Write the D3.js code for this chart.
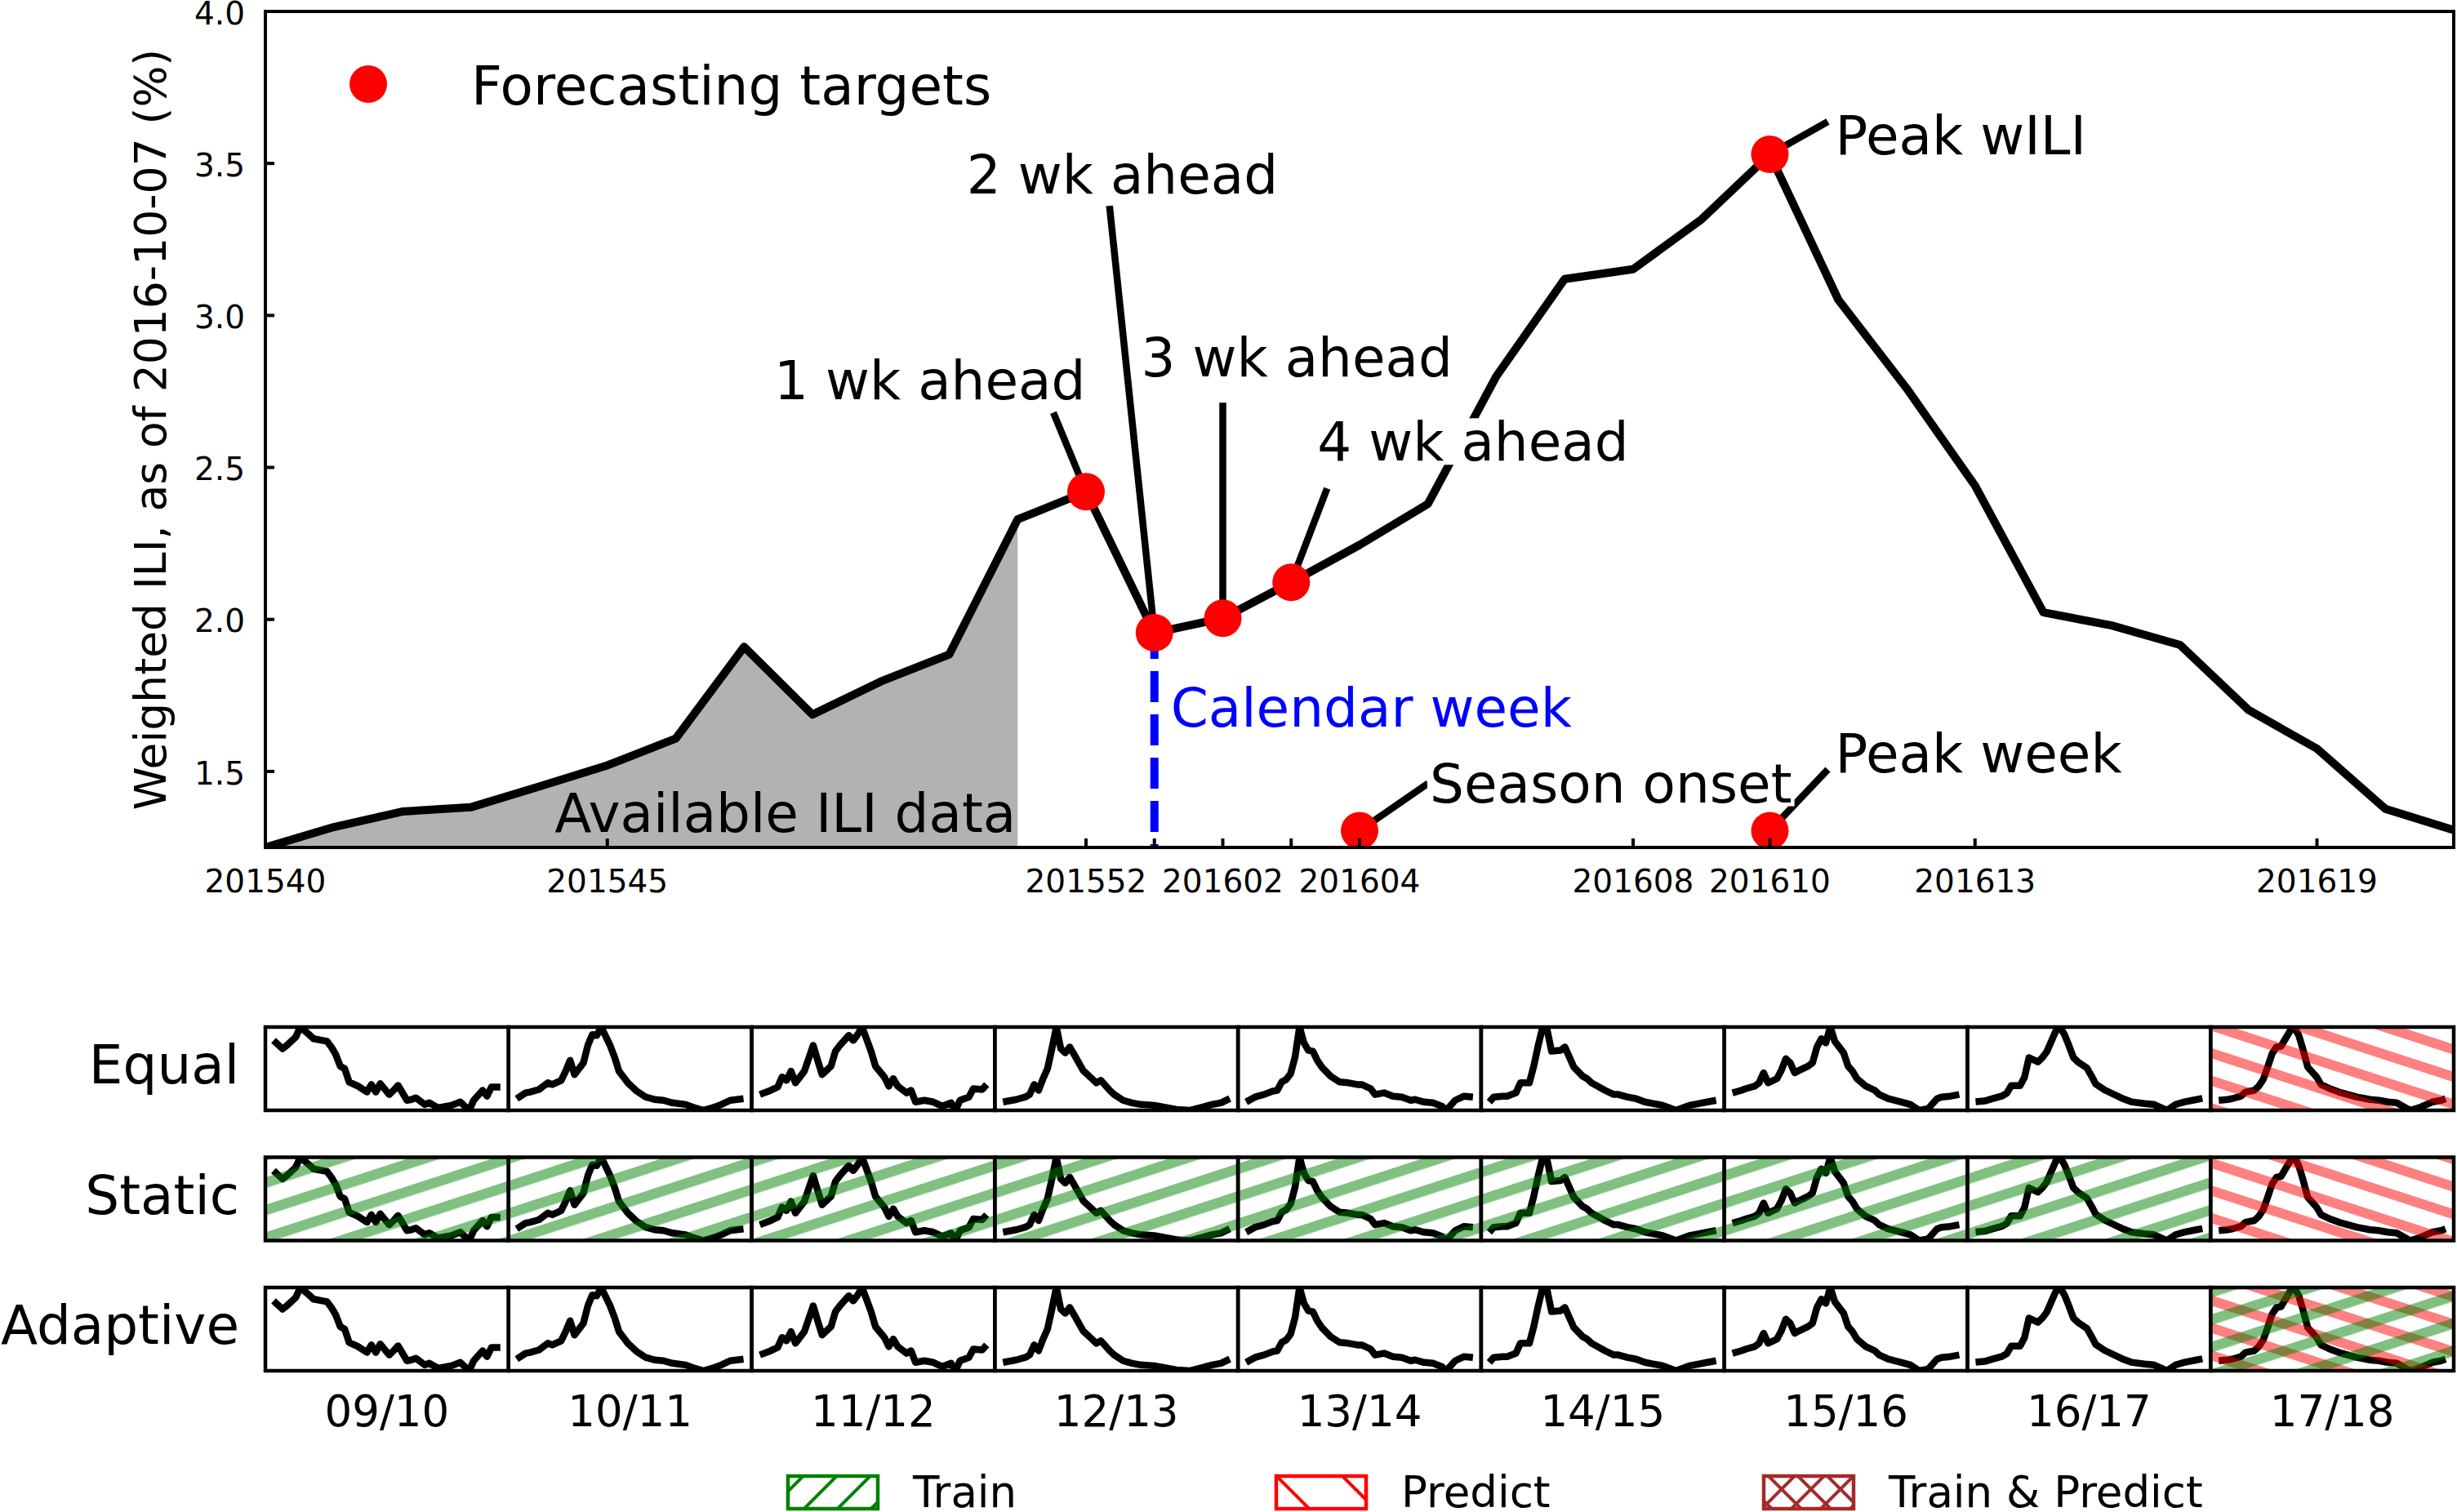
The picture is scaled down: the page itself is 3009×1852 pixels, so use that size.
<!DOCTYPE html>
<meta charset="utf-8">
<style>
body { margin: 0; background: #fff; }
svg text { font-family: "DejaVu Sans", sans-serif; fill: #000; }
</style>
<svg width="3009" height="1852"></svg>
<script src="https://d3js.org/d3.v7.min.js"></script>
<script>

// ---- main panel: weighted ILI of 2015/16, as of 2016-10-07 (weeks 201540 .. 201620) ----
var wili = [1.25, 1.317, 1.368, 1.382, 1.45, 1.52, 1.608, 1.91, 1.687, 1.796,
            1.885, 2.329, 2.42, 1.956, 2.004, 2.122, 2.245, 2.38, 2.80, 3.12,
            3.152, 3.316, 3.53, 3.052, 2.76, 2.44, 2.023, 1.98, 1.916, 1.702,
            1.575, 1.377, 1.307]
var lastAvailable = 11
var calendarWeek = 13

var xTickPos = [0, 5, 12, 13, 14, 15, 16, 20, 22, 25, 30]
var xTickLabels = ["201540", "201545", "201552", "", "201602", "", "201604",
                   "201608", "201610", "201613", "201619"]
var yTicks = [1.5, 2.0, 2.5, 3.0, 3.5, 4.0]

var targetNames  = ["1 wk ahead", "2 wk ahead", "3 wk ahead", "4 wk ahead",
                    "Peak wILI", "Season onset", "Peak week"]
var targetWeeks  = [12, 13, 14, 15, 22, 16, 22]
var targetValues = [2.42, 1.956, 2.004, 2.122, 3.53, 1.305, 1.305]

// ---- small multiples: season curves, [week since wk40, % of season range] ----
var seasonLabels = ["09/10", "10/11", "11/12", "12/13", "13/14", "14/15", "15/16", "16/17", "17/18"]
var season0910 = [[0,84],[2,74],[3,78],[5,88],[6,100],[8,91],[9,86],[11,84],[12,83],[13,76],[14,67],
  [15,53],[16,50],[17,34],[19,29],[21,22],[22,31],[23,22],[24,32],[26,19],[27,24],[28,30],[30,12],
  [31,13],[32,15],[34,7],[35,9],[37,3],[39,5],[40,6],[42,10],[44,0],[45,12],[47,24],[48,17],[49,28],[51,28]]
var season1011 = [[0,14],[2,21],[3,22],[5,25],[6,29],[7,33],[8,31],[10,36],[11,47],[12,60],[13,43],
  [15,57],[16,78],[17,91],[18,90],[19,100],[21,78],[22,64],[23,47],[25,33],[27,23],[29,16],[31,13],
  [33,12],[35,9],[38,7],[40,3],[42,0],[44,3],[46,7],[48,12],[51,14]]
var season1112 = [[0,19],[2,23],[4,28],[5,40],[6,36],[7,47],[8,33],[10,47],[12,78],[13,60],[14,43],
  [16,53],[17,71],[18,78],[20,90],[21,84],[22,91],[23,100],[25,71],[26,53],[28,40],[29,29],[30,38],
  [31,29],[33,21],[34,24],[35,10],[37,12],[39,10],[41,5],[43,9],[44,0],[45,12],[47,16],[48,26],[50,25],[51,31]]
var season1213 = [[0,10],[2,12],[3,13],[5,16],[6,19],[7,31],[8,24],[9,38],[10,50],[11,74],[12,100],
  [13,74],[14,69],[15,76],[16,67],[18,48],[20,38],[21,33],[22,36],[24,24],[25,19],[27,12],[29,9],
  [31,7],[34,6],[36,4],[39,1],[42,0],[45,4],[47,7],[49,9],[51,14]]
var season1314 = [[0,10],[2,16],[4,19],[6,23],[7,24],[8,34],[9,37],[10,44],[11,64],[12,100],[13,81],
  [14,72],[15,71],[16,60],[17,52],[19,41],[21,34],[23,33],[25,31],[26,31],[28,26],[29,19],[31,21],
  [33,17],[35,16],[37,12],[38,13],[40,10],[42,9],[44,5],[45,0],[47,12],[49,17],[51,16]]
var season1415 = [[0,10],[1,16],[3,17],[4,17],[6,21],[7,33],[9,33],[10,53],[11,78],[12,100],[13,97],
  [14,71],[16,72],[17,76],[18,64],[19,52],[21,41],[22,38],[23,33],[24,30],[26,24],[28,19],[29,19],
  [31,16],[33,14],[35,10],[37,8],[39,6],[42,0],[45,6],[47,8],[49,10],[51,12]]
var season1516 = [[0,21],[2,24],[3,26],[5,29],[6,33],[7,45],[8,33],[10,38],[11,48],[12,62],[13,57],
  [14,45],[15,48],[17,53],[18,57],[19,76],[20,86],[21,81],[22,100],[23,83],[25,69],[26,53],[27,47],
  [28,38],[30,29],[32,24],[33,19],[35,14],[38,10],[40,7],[42,0],[44,2],[46,14],[47,16],[49,17],[51,19]]
var season1617 = [[0,12],[2,13],[4,16],[6,19],[7,22],[8,31],[10,31],[11,41],[12,64],[14,59],[15,64],
  [16,71],[17,83],[18,95],[19,100],[20,91],[21,78],[22,64],[23,59],[25,52],[26,43],[27,33],[29,26],
  [31,21],[33,16],[35,12],[38,10],[40,9],[43,2],[45,9],[47,12],[49,14],[51,16]]
var season1718 = [[0,12],[2,13],[3,14],[5,17],[6,22],[8,24],[9,29],[10,37],[11,52],[12,68],[13,76],
  [14,77],[15,86],[16,95],[17,100],[18,90],[19,72],[20,52],[22,40],[23,31],[25,26],[27,22],[29,19],
  [31,16],[34,13],[36,12],[38,10],[40,9],[43,0],[45,3],[48,10],[50,12],[51,14]]
var seasonCurves = [season0910, season1011, season1112, season1213, season1314,
                    season1415, season1516, season1617, season1718]

var strategies = ["Equal", "Static", "Adaptive"]
var equalRoles    = ["", "", "", "", "", "", "", "", "predict"]
var staticRoles   = ["train", "train", "train", "train", "train", "train", "train", "train", "predict"]
var adaptiveRoles = ["", "", "", "", "", "", "", "", "both"]
var strategyRoles = [equalRoles, staticRoles, adaptiveRoles]

var legendLabels = ["Train", "Predict", "Train & Predict"]

// ---- layout ----
var svg = d3.select("svg")
var plot = {left: 325, right: 3005, top: 14, bottom: 1038}

var x = d3.scaleLinear().domain([0, 32]).range([plot.left, plot.right])
var y = d3.scaleLinear().domain([1.25, 4.0]).range([plot.bottom, plot.top])

// label / leader offsets from each target dot (px)
var noteText   = [[-382, -113], [-230, -538], [-100, -296], [32, -149], [80, 0], [86, -35], [80, -72]]
var noteLeader = [[-40, -97], [-55, -523], [0, -264], [44, -115], [71, -40], [84, -58], [71, -75]]
var noteBox    = [false, false, false, true, false, true, false]

var defs = svg.append("defs")
defs.append("clipPath").attr("id", "plotClip")
  .append("rect")
  .attr("x", plot.left).attr("y", plot.top)
  .attr("width", plot.right - plot.left).attr("height", plot.bottom - plot.top)

function stripes(id, angle, color, period, thick) {
  var p = defs.append("pattern")
      .attr("id", id)
      .attr("patternUnits", "userSpaceOnUse")
      .attr("width", 400).attr("height", period)
      .attr("patternTransform", "rotate(" + angle + ")")
  p.append("rect").attr("width", 400).attr("height", thick).attr("fill", color)
}
stripes("trainStripes", -18, "green", 32, 12.5)
stripes("predictStripes", 18, "red", 32, 12)
stripes("legendTrain", -45, "green", 29, 4)
stripes("legendPredict", 45, "red", 57, 4)
stripes("legendBothA", -45, "brown", 25.5, 4)
stripes("legendBothB", 45, "brown", 25.5, 4)

// ---- main panel ----
var main = svg.append("g").attr("clip-path", "url(#plotClip)")

main.append("path")
    .datum(wili.slice(0, lastAvailable + 1))
    .attr("d", d3.area().x(function(d, i) { return x(i) }).y0(plot.bottom).y1(function(d) { return y(d) }))
    .attr("fill", "#b2b2b2")

main.append("text")
    .attr("x", x(lastAvailable) - 2)
    .attr("y", plot.bottom - 19)
    .attr("text-anchor", "end")
    .attr("font-size", 66)
    .text("Available ILI data")

main.append("path")
    .datum(wili)
    .attr("d", d3.line().x(function(d, i) { return x(i) }).y(function(d) { return y(d) }))
    .attr("fill", "none")
    .attr("stroke", "#000")
    .attr("stroke-width", 10)
    .attr("stroke-linejoin", "round")

main.append("line")
    .attr("x1", x(calendarWeek)).attr("x2", x(calendarWeek))
    .attr("y1", y(wili[calendarWeek])).attr("y2", plot.bottom)
    .attr("stroke", "blue")
    .attr("stroke-width", 10)
    .attr("stroke-dasharray", "38,15")
    .attr("stroke-dashoffset", 6)

main.append("text")
    .attr("x", x(calendarWeek) + 20)
    .attr("y", y(1.647))
    .attr("font-size", 66)
    .style("fill", "blue")
    .text("Calendar week")

// leaders, then dots, then labels
targetNames.forEach(function(name, i) {
  var cx = x(targetWeeks[i]), cy = y(targetValues[i])
  main.append("line")
      .attr("x1", cx + noteLeader[i][0]).attr("y1", cy + noteLeader[i][1])
      .attr("x2", cx).attr("y2", cy)
      .attr("stroke", "#000")
      .attr("stroke-width", 8.5)
})

main.selectAll("circle.target")
    .data(targetNames)
    .enter().append("circle")
    .attr("class", "target")
    .attr("cx", function(d, i) { return x(targetWeeks[i]) })
    .attr("cy", function(d, i) { return y(targetValues[i]) })
    .attr("r", 23)
    .attr("fill", "red")

targetNames.forEach(function(name, i) {
  var tx = x(targetWeeks[i]) + noteText[i][0], ty = y(targetValues[i]) + noteText[i][1]
  var g = svg.append("g")
  var t = g.append("text")
      .attr("x", tx).attr("y", ty)
      .attr("font-size", 66)
      .text(name)
  if (noteBox[i]) {
    var bb = t.node().getBBox()
    g.insert("rect", "text")
        .attr("x", bb.x - 3).attr("y", ty - 52)
        .attr("width", bb.width + 6).attr("height", 57)
        .attr("fill", "#fff")
  }
})

// legend
svg.append("circle")
    .attr("cx", plot.left + 126).attr("cy", plot.top + 89)
    .attr("r", 23).attr("fill", "red")
svg.append("text")
    .attr("x", plot.left + 252).attr("y", plot.top + 114)
    .attr("font-size", 66)
    .text("Forecasting targets")

// axes frame and ticks
svg.append("rect")
    .attr("x", plot.left).attr("y", plot.top)
    .attr("width", plot.right - plot.left).attr("height", plot.bottom - plot.top)
    .attr("fill", "none").attr("stroke", "#000").attr("stroke-width", 4)

svg.selectAll("line.xtick")
    .data(xTickPos)
    .enter().append("line")
    .attr("class", "xtick")
    .attr("x1", function(d) { return x(d) }).attr("x2", function(d) { return x(d) })
    .attr("y1", plot.bottom).attr("y2", plot.bottom - 11)
    .attr("stroke", "#000").attr("stroke-width", 4)

svg.selectAll("text.xtick")
    .data(xTickPos)
    .enter().append("text")
    .attr("class", "xtick")
    .attr("x", function(d) { return x(d) })
    .attr("y", plot.bottom + 55)
    .attr("text-anchor", "middle")
    .attr("font-size", 39)
    .text(function(d, i) { return xTickLabels[i] })

svg.selectAll("line.ytick")
    .data(yTicks)
    .enter().append("line")
    .attr("class", "ytick")
    .attr("x1", plot.left).attr("x2", plot.left + 11)
    .attr("y1", function(d) { return y(d) }).attr("y2", function(d) { return y(d) })
    .attr("stroke", "#000").attr("stroke-width", 4)

svg.selectAll("text.ytick")
    .data(yTicks)
    .enter().append("text")
    .attr("class", "ytick")
    .attr("x", plot.left - 25)
    .attr("y", function(d) { return y(d) })
    .attr("dy", "0.4em")
    .attr("text-anchor", "end")
    .attr("font-size", 39)
    .text(d3.format(".1f"))

svg.append("text")
    .attr("transform", "translate(203," + (plot.top + plot.bottom) / 2 + ") rotate(-90)")
    .attr("text-anchor", "middle")
    .attr("font-size", 53.5)
    .text("Weighted ILI, as of 2016-10-07 (%)")

// ---- small multiples ----
var col = d3.scaleBand().domain(seasonLabels).range([plot.left, plot.right])
var rowTop = d3.scalePoint().domain(strategies).range([1258, 1577])
var panelH = 102
var bw = col.bandwidth()

strategies.forEach(function(strategy, r) {
  var top = rowTop(strategy)

  svg.append("text")
      .attr("x", 293)
      .attr("y", top + panelH / 2 + 18)
      .attr("text-anchor", "end")
      .attr("font-size", 66)
      .text(strategy)

  seasonLabels.forEach(function(season, s) {
    var left = col(season)
    var curve = seasonCurves[s]
    var role = strategyRoles[r][s]
    var id = "clip" + r + "_" + s

    defs.append("clipPath").attr("id", id)
      .append("rect")
      .attr("x", left).attr("y", top).attr("width", bw).attr("height", panelH)

    var sx = d3.scaleLinear().domain([0, 51]).range([left + 10, left + bw - 10])
    var sy = d3.scaleLinear().domain(d3.extent(curve, function(d) { return d[1] })).range([top + panelH, top])

    var g = svg.append("g").attr("clip-path", "url(#" + id + ")")
    g.append("path")
        .datum(curve)
        .attr("d", d3.line().x(function(d) { return sx(d[0]) }).y(function(d) { return sy(d[1]) }))
        .attr("fill", "none")
        .attr("stroke", "#000")
        .attr("stroke-width", 8.5)
        .attr("stroke-linejoin", "round")

    if (role === "predict" || role === "both") {
      g.append("rect")
          .attr("x", left).attr("y", top).attr("width", bw).attr("height", panelH)
          .attr("fill", "url(#predictStripes)").attr("opacity", 0.5)
    }
    if (role === "train" || role === "both") {
      g.append("rect")
          .attr("x", left).attr("y", top).attr("width", bw).attr("height", panelH)
          .attr("fill", "url(#trainStripes)").attr("opacity", 0.5)
    }

    svg.append("rect")
        .attr("x", left).attr("y", top).attr("width", bw).attr("height", panelH)
        .attr("fill", "none").attr("stroke", "#000").attr("stroke-width", 4.5)
  })
})

svg.selectAll("text.season")
    .data(seasonLabels)
    .enter().append("text")
    .attr("class", "season")
    .attr("x", function(d) { return col(d) + bw / 2 })
    .attr("y", 1747)
    .attr("text-anchor", "middle")
    .attr("font-size", 53)
    .text(function(d) { return d })

// ---- bottom legend ----
var legendX = [965, 1563, 2160]
var legendFill = [["legendTrain"], ["legendPredict"], ["legendBothA", "legendBothB"]]
var legendEdge = ["green", "red", "brown"]

legendLabels.forEach(function(label, i) {
  var lx = legendX[i]
  svg.append("rect")
      .attr("x", lx).attr("y", 1808).attr("width", 110).attr("height", 40)
      .attr("fill", "#fff")
  legendFill[i].forEach(function(p) {
    svg.append("rect")
        .attr("x", lx).attr("y", 1808).attr("width", 110).attr("height", 40)
        .attr("fill", "url(#" + p + ")")
  })
  svg.append("rect")
      .attr("x", lx).attr("y", 1808).attr("width", 110).attr("height", 40)
      .attr("fill", "none").attr("stroke", legendEdge[i]).attr("stroke-width", 4.5)
  svg.append("text")
      .attr("x", lx + 153).attr("y", 1846)
      .attr("font-size", 53)
      .text(label)
})

</script>
</html>
